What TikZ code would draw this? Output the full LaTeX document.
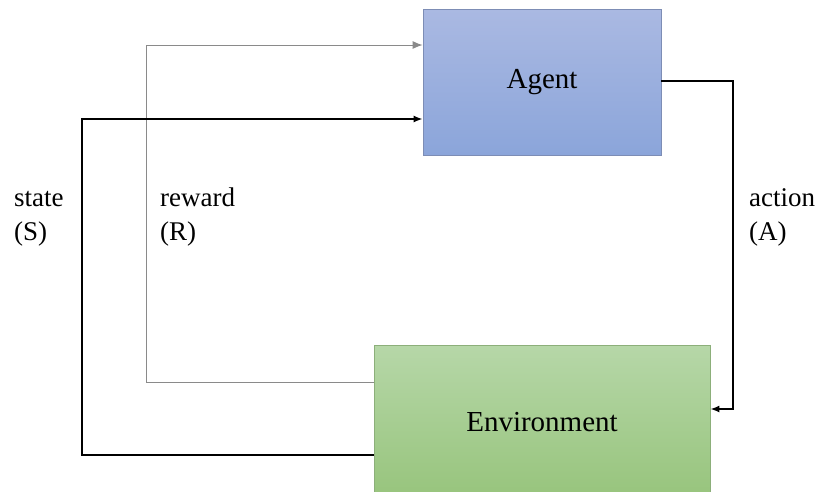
\documentclass[tikz,border=0pt]{standalone}
\usepackage{fontspec}
\setmainfont{Liberation Serif}
\usetikzlibrary{arrows.meta}
\definecolor{agenttop}{HTML}{AAB9E2}
\definecolor{agentbot}{HTML}{8BA5DA}
\definecolor{agentline}{HTML}{7D8DB5}
\definecolor{envtop}{HTML}{B6D7A8}
\definecolor{envbot}{HTML}{97C47C}
\definecolor{envline}{HTML}{8CAF7A}
\definecolor{rewardgray}{HTML}{8A8A8A}
\tikzset{
  box/.style={draw, line width=0.8pt, inner sep=0pt, font=\fontsize{29}{33}\selectfont},
  label/.style={inner sep=0pt, anchor=base west, align=left, font=\fontsize{27}{34}\selectfont},
  thick line/.style={-{Latex[length=9pt,width=7pt]}, line width=1.6pt, black},
  thin line/.style={-{Latex[length=10pt,width=8pt]}, line width=1pt, rewardgray},
}
\begin{document}
\begin{tikzpicture}[x=1pt, y=-1pt]
  \useasboundingbox (0,0) rectangle (818,491);
  \clip (0,0) rectangle (818,491);
  \fill[white] (0,0) rectangle (818,491);

  % the two blocks
  \node[box, draw=agentline, top color=agenttop, bottom color=agentbot,
        minimum width=238pt, minimum height=146pt] (agent) at (542,82) {Agent};
  \node[box, draw=envline, top color=envtop, bottom color=envbot,
        minimum width=336pt, minimum height=154pt] (env) at (542,422) {Environment};

  % corner points of the feedback loops
  \coordinate (r1) at (146,382);
  \coordinate (r2) at (146,45);
  \coordinate (s1) at (82,455);
  \coordinate (s2) at (82,119);
  \coordinate (a1) at (733,81);
  \coordinate (a2) at (733,409);

  % reward
  \draw[thin line] (env.west |- r1) -- (r1) -- (r2) -- (agent.west |- r2);
  % state
  \draw[thick line] (env.west |- s1) -- (s1) -- (s2) -- (agent.west |- s2);
  % action
  \draw[thick line] (agent.east |- a1) -- (a1) -- (a2) -- (env.east |- a2);

  % labels (base anchor sits on the last line)
  \node[label] (statelbl) at (14,240) {state\\(S)};
  \node[label] (rewardlbl) at (160,240) {reward\\(R)};
  \node[label] (actionlbl) at (749,240) {action\\(A)};
\end{tikzpicture}
\end{document}
